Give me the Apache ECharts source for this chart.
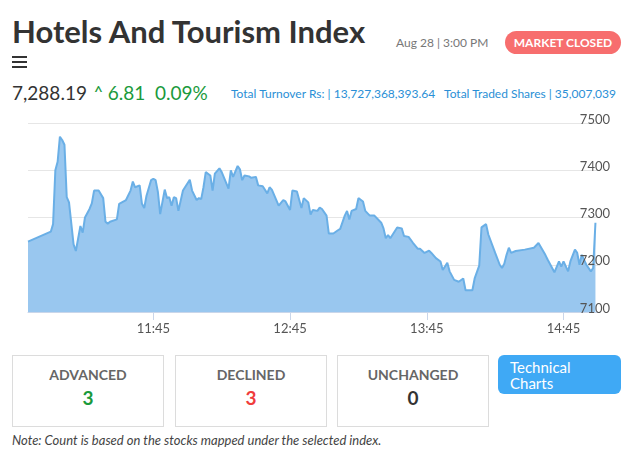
<!DOCTYPE html>
<html><head><meta charset="utf-8">
<script src="https://cdn.jsdelivr.net/npm/echarts@6/dist/echarts.min.js"></script>
<style>
body{margin:0;width:635px;height:467px;font-family:Lato,"Noto Sans",sans-serif;background:#fff;position:relative;overflow:hidden}
.a{position:absolute;white-space:nowrap}
.box{position:absolute;top:355px;height:70px;width:150px;border:1px solid #dcdcdc;text-align:center}
.box .l{margin-top:10px;font-size:14px;font-weight:bold;color:#666}
.box .v{margin-top:3px;font-size:19px;font-weight:bold}
</style></head><body>
<div class="a" style="left:12px;top:12px;font-size:31px;font-weight:bold;color:#333">Hotels And Tourism Index</div>
<div class="a" style="left:12px;top:56px;width:15px">
<div style="height:2px;background:#333;margin-bottom:3px"></div><div style="height:2px;background:#333;margin-bottom:3px"></div><div style="height:2px;background:#333"></div></div>
<div class="a" style="left:396px;top:35px;font-size:12px;color:#777">Aug 28 | 3:00 PM</div>
<div class="a" style="left:505px;top:31px;width:116px;height:23px;line-height:23px;border-radius:12px;background:#f76e6e;color:#fff;font-size:12px;font-weight:bold;text-align:center">MARKET CLOSED</div>
<div class="a" style="left:12px;top:81px;font-size:19px;color:#333">7,288.19</div>
<div class="a" style="left:94px;top:81px;font-size:19px;color:#1a9a3c">&#708; 6.81&nbsp;&nbsp;0.09%</div>
<div class="a" style="left:231px;top:86px;font-size:12px;color:#2a8fd6">Total Turnover Rs: | 13,727,368,393.64&nbsp;&nbsp;&nbsp;Total Traded Shares | 35,007,039</div>
<div id="c" class="a" style="left:0;top:105px;width:635px;height:240px"></div>
<div class="box" style="left:12px"><div class="l">ADVANCED</div><div class="v" style="color:#1a9a3c">3</div></div>
<div class="box" style="left:175px"><div class="l">DECLINED</div><div class="v" style="color:#f03c3c">3</div></div>
<div class="box" style="left:337px"><div class="l">UNCHANGED</div><div class="v" style="color:#333">0</div></div>
<div class="a" style="left:498px;top:355px;width:123px;height:39px;border-radius:6px;background:#3fa9f5;color:#fff;font-size:15px;line-height:16px;padding:4px 12px;box-sizing:border-box">Technical<br>Charts</div>
<div class="a" style="left:12px;top:432px;font-size:13px;font-style:italic;color:#444">Note: Count is based on the stocks mapped under the selected index.</div>
<script>
const times=["10:50","11:00","11:01","11:02","11:03","11:04","11:05","11:06","11:07","11:08","11:10","11:11","11:13","11:14","11:15","11:17","11:18","11:19","11:21","11:23","11:24","11:25","11:26","11:29","11:30","11:33","11:35","11:36","11:37","11:39","11:40","11:41","11:42","11:44","11:45","11:46","11:47","11:48","11:50","11:51","11:52","11:53","11:54","11:55","11:56","11:58","12:01","12:02","12:04","12:05","12:06","12:07","12:08","12:10","12:11","12:12","12:14","12:15","12:18","12:19","12:20","12:22","12:23","12:24","12:25","12:27","12:28","12:30","12:31","12:33","12:35","12:36","12:37","12:40","12:42","12:43","12:45","12:46","12:48","12:50","12:51","12:53","12:54","12:55","12:57","12:58","12:59","13:01","13:02","13:04","13:06","13:07","13:09","13:10","13:11","13:12","13:14","13:15","13:17","13:18","13:20","13:22","13:25","13:26","13:27","13:28","13:29","13:32","13:34","13:35","13:37","13:39","13:41","13:42","13:44","13:46","13:47","13:49","13:51","13:52","13:54","13:55","13:57","13:59","14:01","14:02","14:05","14:06","14:08","14:09","14:11","14:12","14:15","14:17","14:18","14:19","14:20","14:21","14:22","14:24","14:28","14:32","14:34","14:37","14:38","14:41","14:43","14:44","14:45","14:47","14:48","14:50","14:51","14:52","14:53","14:55","14:57","14:58","14:59"];
const values=[7249,7270,7286,7400,7418,7471,7464,7454,7343,7332,7243,7229,7282,7268,7300,7318,7330,7357,7357,7341,7291,7287,7291,7296,7329,7337,7357,7376,7364,7368,7329,7320,7346,7379,7382,7379,7354,7307,7359,7341,7343,7325,7343,7341,7314,7357,7380,7357,7337,7341,7339,7364,7396,7389,7357,7393,7404,7396,7361,7400,7386,7409,7402,7379,7389,7387,7384,7386,7368,7366,7351,7364,7359,7325,7337,7334,7316,7357,7355,7320,7341,7332,7306,7316,7314,7321,7318,7304,7266,7266,7273,7276,7304,7314,7296,7314,7318,7341,7334,7314,7304,7304,7289,7277,7256,7263,7256,7279,7277,7261,7259,7246,7234,7234,7225,7230,7225,7214,7207,7189,7204,7186,7168,7164,7171,7146,7146,7171,7198,7279,7286,7264,7225,7200,7193,7202,7221,7236,7225,7229,7232,7236,7246,7221,7211,7184,7207,7196,7207,7186,7207,7232,7225,7200,7221,7200,7186,7193,7289];
const xTicks=["11:45","12:45","13:45","14:45"];
const yTicks=[7100,7200,7300,7400,7500];
const toMin=s=>{const [h,m]=s.split(':').map(Number);return h*60+m;};
const fmt=v=>Math.floor(v/60)+':'+String(v%60).padStart(2,'0');
const ch=echarts.init(document.getElementById('c'));
const yBase={type:'value',position:'right',min:7100,max:7500,interval:100,axisLine:{show:false},axisTick:{show:false}};
ch.setOption({
 animation:false,
 grid:{left:28,right:35,top:18,bottom:33},
 xAxis:{type:'value',min:toMin("10:50"),max:toMin("15:01"),
  axisLine:{lineStyle:{color:'#c9d6ea'}},splitLine:{show:false},
  axisTick:{customValues:xTicks.map(toMin),length:8,lineStyle:{color:'#c9d6ea'}},
  axisLabel:{customValues:xTicks.map(toMin),formatter:fmt,color:'#555',fontSize:13,fontFamily:'Lato',margin:10}},
 yAxis:[Object.assign({},yBase,{z:0,axisLabel:{show:false},splitLine:{lineStyle:{color:'#e6e6e6'}}}),
  Object.assign({},yBase,{z:10,splitLine:{show:false},
  axisLabel:{inside:true,verticalAlign:'bottom',margin:-10,color:'#555',fontSize:13,fontFamily:'Lato',padding:[0,0,-3,0],
   customValues:yTicks,formatter:v=>String(v),showMinLabel:true}})],
 series:[{type:'line',data:times.map((t,i)=>[toMin(t),values[i]]),symbol:'none',z:2,
  lineStyle:{color:'#6aafe6',width:2},areaStyle:{color:'#99c7ef',opacity:1}}]
});
</script></body></html>
